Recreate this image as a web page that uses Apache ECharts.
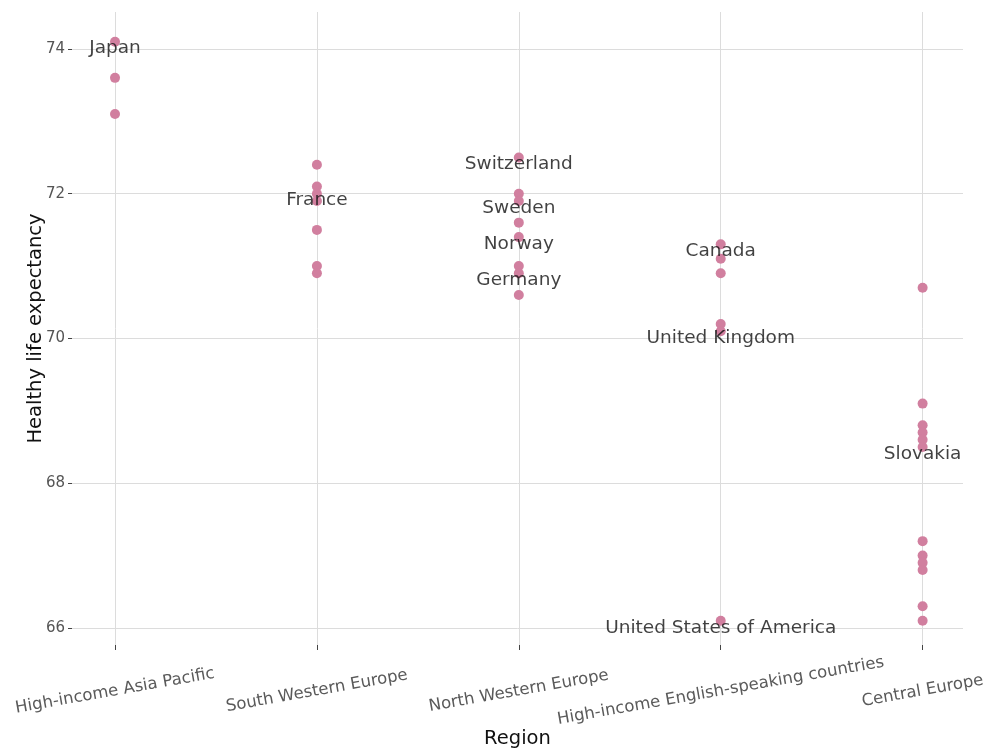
<!DOCTYPE html>
<html>
<head>
<meta charset="utf-8">
<script src="https://cdn.jsdelivr.net/npm/echarts@6/dist/echarts.min.js"></script>
<style>html,body{margin:0;padding:0;background:#fff;}#c{width:989px;height:749px;}</style>
</head>
<body>
<div id="c"></div>
<script>
const regions = ['High-income Asia Pacific', 'South Western Europe', 'North Western Europe', 'High-income English-speaking countries', 'Central Europe'];
const asiaPacific = [74.1, 73.6, 73.1];
const southWesternEurope = [72.4, 72.1, 72.0, 71.9, 71.5, 71.0, 70.9];
const northWesternEurope = [72.5, 72.0, 71.9, 71.6, 71.4, 71.0, 70.9, 70.6];
const englishSpeaking = [71.3, 71.1, 70.9, 70.2, 70.1, 66.1];
const centralEurope = [70.7, 69.1, 68.8, 68.7, 68.6, 68.5, 67.2, 67.0, 66.9, 66.8, 66.3, 66.1];
const regionValues = [asiaPacific, southWesternEurope, northWesternEurope, englishSpeaking, centralEurope];

const labelNames = ['Japan', 'France', 'Switzerland', 'Sweden', 'Norway', 'Germany', 'Canada', 'United Kingdom', 'United States of America', 'Slovakia'];
const labelRegionIdx = [0, 1, 2, 2, 2, 2, 3, 3, 3, 4];
const labelValues = [74.1, 72.0, 72.5, 71.9, 71.4, 70.9, 71.3, 70.1, 66.1, 68.5];

const yTicks = [66, 68, 70, 72, 74];

const points = [];
regionValues.forEach((vals, i) => vals.forEach(v => points.push([i + 1, v])));
const labelData = labelNames.map((n, k) => ({ value: [labelRegionIdx[k] + 1, labelValues[k]], name: n }));

const FONT = 'DejaVu Sans';
const chart = echarts.init(document.getElementById('c'), null, { renderer: 'canvas' });
chart.setOption({
  animation: false,
  backgroundColor: '#ffffff',
  grid: { left: 72, right: 26, top: 12, bottom: 104, containLabel: false, outerBoundsMode: 'none' },
  xAxis: {
    type: 'value', min: 0.787, max: 5.2,
    name: 'Region', nameLocation: 'middle', nameGap: 84, nameMoveOverlap: false,
    nameTextStyle: { fontFamily: FONT, fontSize: 19.5, color: '#111' },
    axisLine: { show: false },
    axisTick: { show: true, length: 5, customValues: [1, 2, 3, 4, 5], lineStyle: { color: '#444' } },
    axisLabel: {
      customValues: [1, 2, 3, 4, 5], rotate: 10, align: 'center', verticalAlign: 'middle', margin: 46,
      fontFamily: FONT, fontSize: 16.5, color: '#5a5a5a',
      formatter: v => regions[Math.round(v) - 1] || ''
    },
    splitLine: { show: true, lineStyle: { color: '#dcdcdc', width: 1 } }
  },
  yAxis: {
    type: 'value', min: 65.765, max: 74.51,
    name: 'Healthy life expectancy', nameLocation: 'middle', nameGap: 26, nameMoveOverlap: false,
    nameTextStyle: { fontFamily: FONT, fontSize: 19.5, color: '#111' },
    axisLine: { show: false },
    axisTick: { show: true, length: 4, customValues: yTicks, lineStyle: { color: '#444' } },
    axisLabel: { customValues: yTicks, margin: 7, fontFamily: FONT, fontSize: 15, color: '#555' },
    splitLine: { show: true, lineStyle: { color: '#dcdcdc', width: 1 } }
  },
  series: [
    {
      type: 'scatter', data: points, symbolSize: 10,
      itemStyle: { color: '#d17f9f', opacity: 1 }
    },
    {
      type: 'scatter', data: labelData, symbolSize: 0, z: 5,
      label: {
        show: true, position: 'inside', offset: [0, 7],
        formatter: p => p.name, fontFamily: FONT, fontSize: 18.5, color: '#111'
      }
    }
  ]
});
</script>
</body>
</html>
